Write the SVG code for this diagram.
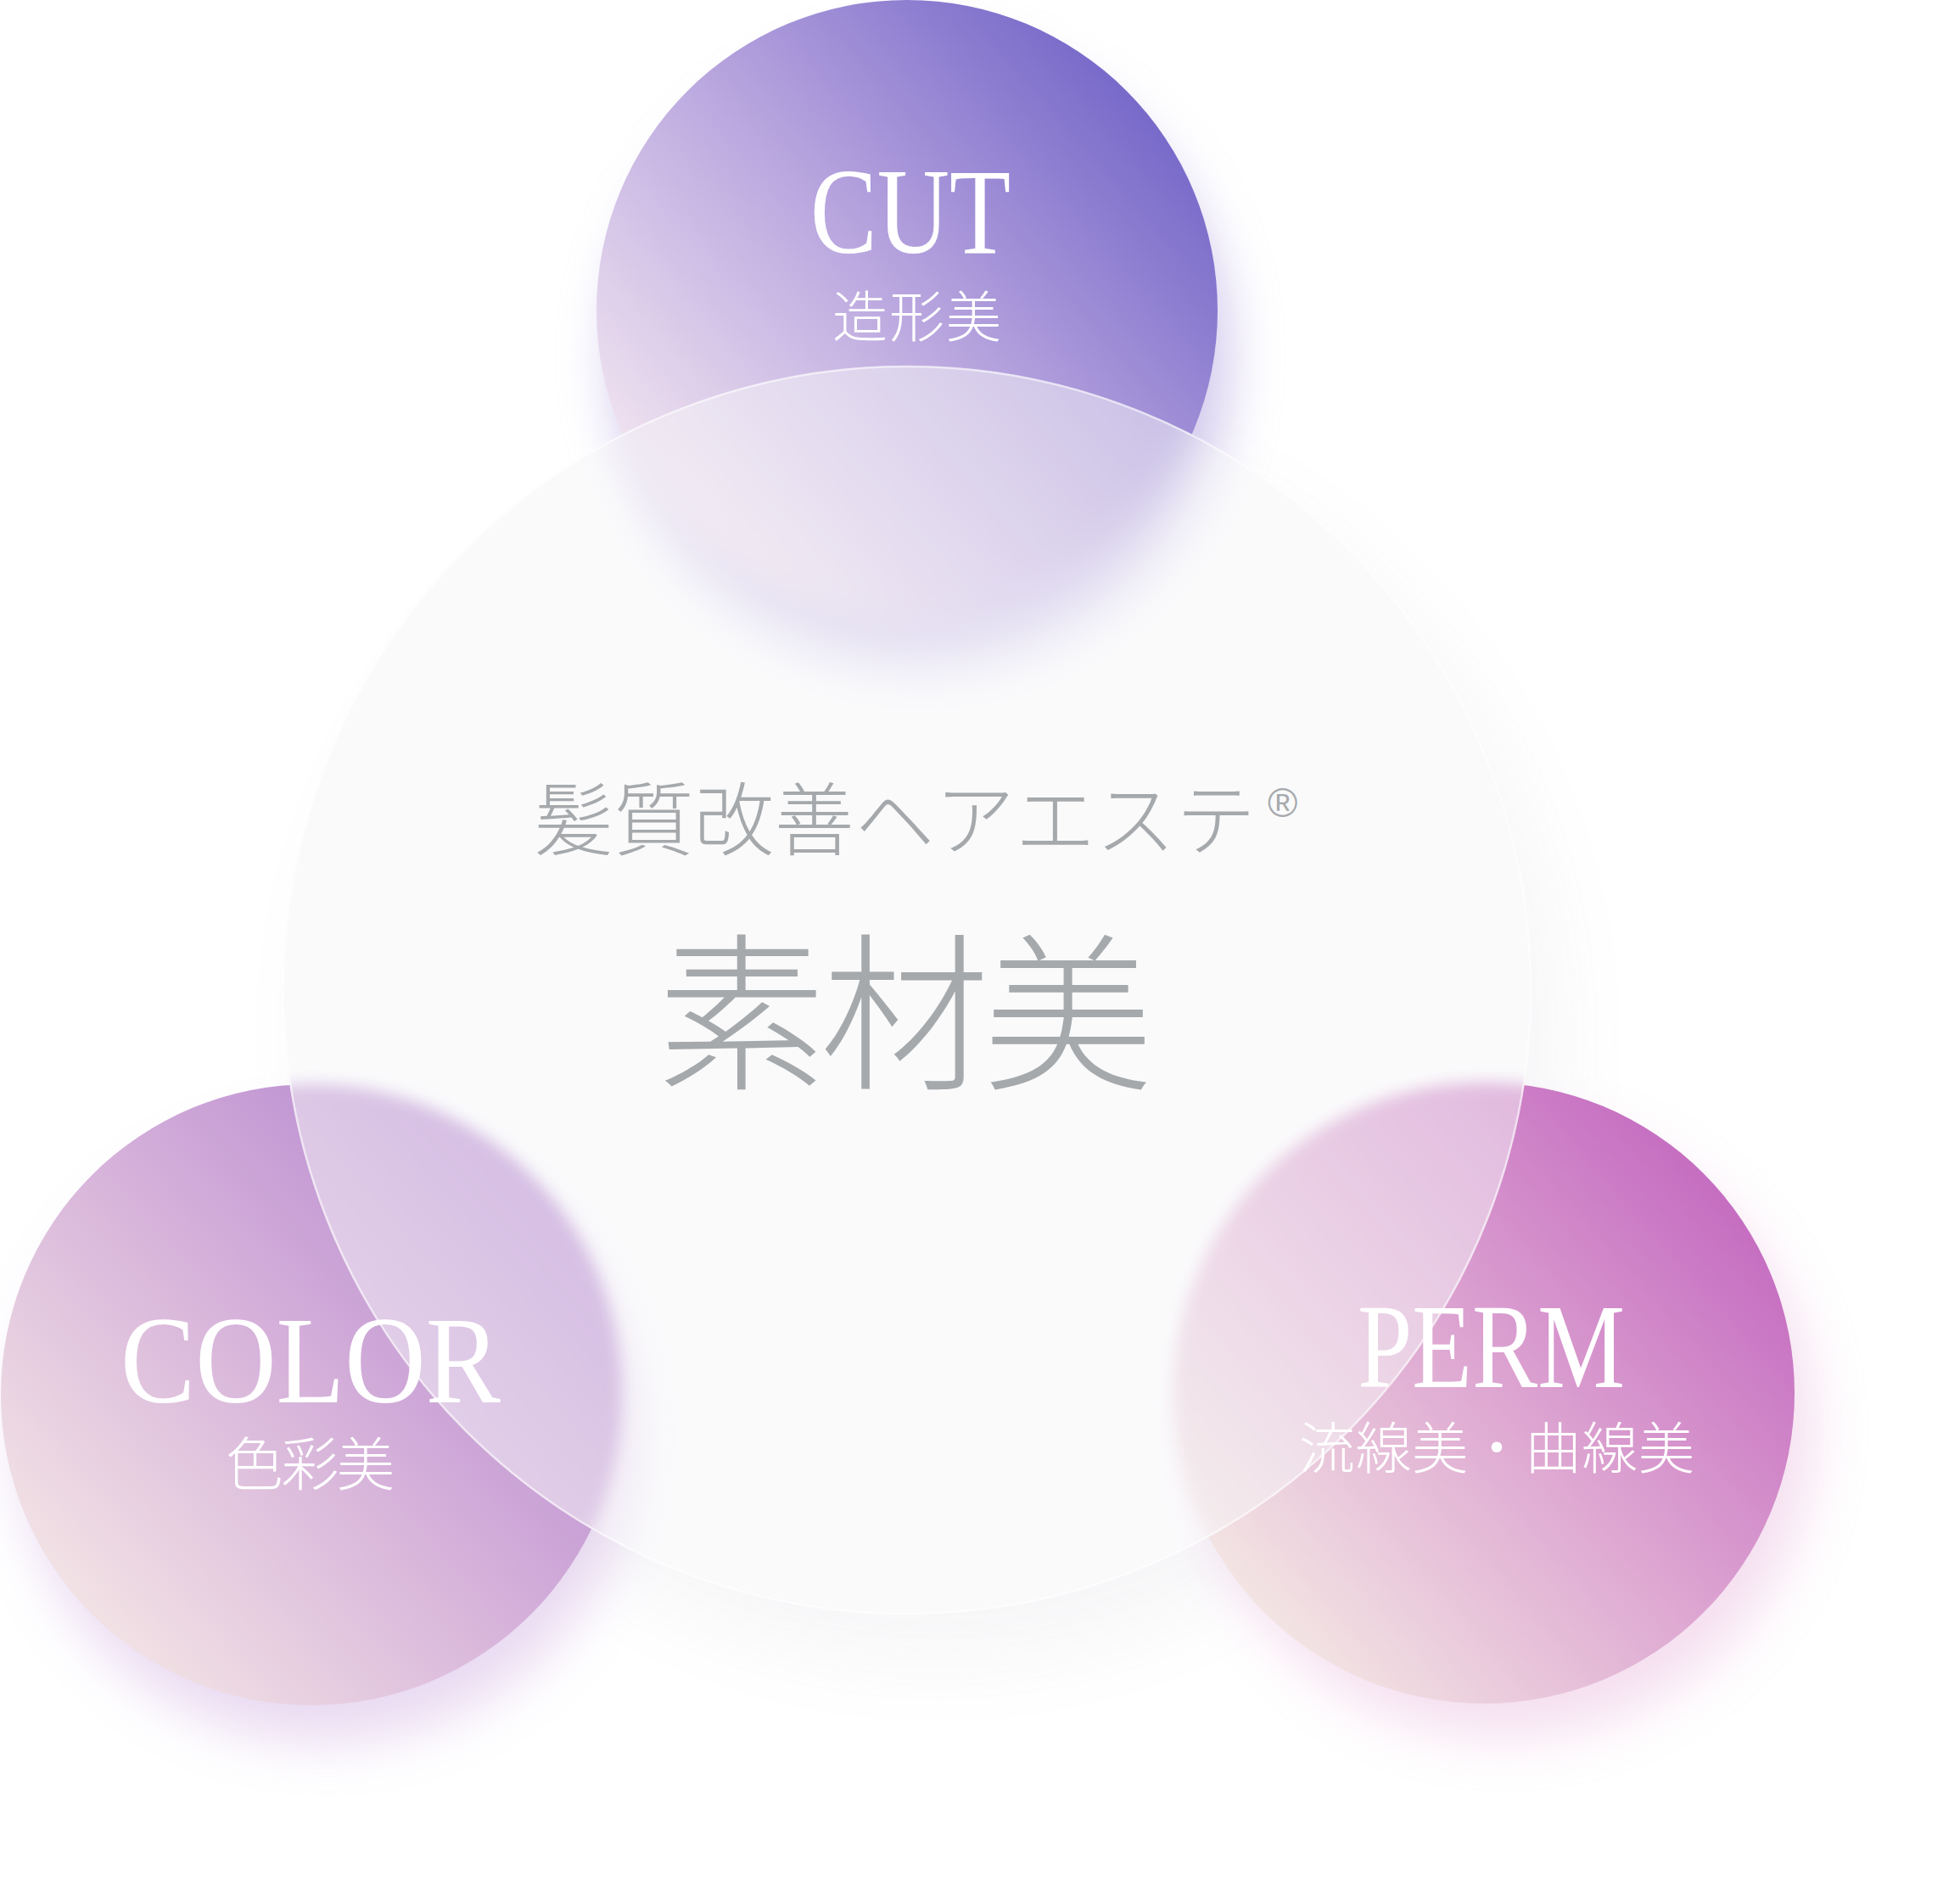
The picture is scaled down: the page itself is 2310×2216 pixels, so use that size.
<svg xmlns="http://www.w3.org/2000/svg" xmlns:xlink="http://www.w3.org/1999/xlink" width="2310" height="2216" viewBox="0 0 2310 2216">
  <style>
    .lat { font-family: "Liberation Serif", "DejaVu Serif", serif; fill: #ffffff; }
    .jp { font-family: "Liberation Serif", "Noto Sans CJK JP", serif; font-weight: 300; fill: #ffffff; }
    .core { font-family: "Liberation Serif", "Noto Sans CJK JP", serif; font-weight: 300; fill: #a6a9ac; }
    .reg { font-family: "Liberation Sans", "DejaVu Sans", sans-serif; fill: #a6a9ac; }
  </style>
  <defs>
    <linearGradient id="gCut" x1="0.1" y1="0.85" x2="0.9" y2="0.15">
      <stop offset="0" stop-color="#f4e7f1"/>
      <stop offset="0.5" stop-color="#baa7df"/>
      <stop offset="1" stop-color="#7466c8"/>
    </linearGradient>
    <linearGradient id="gColor" x1="0.1" y1="0.85" x2="0.9" y2="0.15">
      <stop offset="0" stop-color="#f3e4e5"/>
      <stop offset="0.5" stop-color="#d6b2da"/>
      <stop offset="1" stop-color="#b384cf"/>
    </linearGradient>
    <linearGradient id="gPerm" x1="0.1" y1="0.85" x2="0.9" y2="0.15">
      <stop offset="0" stop-color="#f4e8e4"/>
      <stop offset="0.5" stop-color="#dea8d2"/>
      <stop offset="1" stop-color="#c46ac0"/>
    </linearGradient>
    <filter id="shadowBlur" x="-30%" y="-30%" width="160%" height="160%">
      <feGaussianBlur stdDeviation="32"/>
    </filter>
    <filter id="bigShadowBlur" x="-30%" y="-30%" width="160%" height="160%">
      <feGaussianBlur stdDeviation="45"/>
    </filter>
    <filter id="backdropSoft" x="-20%" y="-20%" width="140%" height="140%">
      <feGaussianBlur stdDeviation="22"/>
    </filter>
    <filter id="backdrop" x="-20%" y="-20%" width="140%" height="140%">
      <feGaussianBlur stdDeviation="9"/>
    </filter>
    <clipPath id="glassClip">
      <circle cx="1069" cy="1167" r="736"/>
    </clipPath>
    <g id="glows">
      <circle cx="1085" cy="420" r="362" fill="#a390da" opacity="0.5" filter="url(#shadowBlur)"/>
      <circle cx="385" cy="1690" r="362" fill="#c8a0dc" opacity="0.4" filter="url(#shadowBlur)"/>
      <circle cx="1775" cy="1685" r="362" fill="#e2a2d2" opacity="0.35" filter="url(#shadowBlur)"/>
    </g>
    <circle id="discCut" cx="1069" cy="366" r="366" fill="url(#gCut)"/>
    <circle id="discColor" cx="367" cy="1644" r="366" fill="url(#gColor)"/>
    <circle id="discPerm" cx="1749" cy="1642" r="366" fill="url(#gPerm)"/>
  </defs>

  <rect x="0" y="0" width="2310" height="2216" fill="#ffffff"/>

  <!-- soft shadow of the central glass disc -->
  <circle cx="1105" cy="1225" r="736" fill="#8c8ca2" opacity="0.07" filter="url(#bigShadowBlur)"/>

  <!-- colored discs with their glows -->
  <g id="discs">
    <use xlink:href="#glows" href="#glows"/>
    <use xlink:href="#discCut" href="#discCut"/>
    <use xlink:href="#discColor" href="#discColor"/>
    <use xlink:href="#discPerm" href="#discPerm"/>
  </g>

  <!-- central frosted glass disc -->
  <g id="node-core">
    <g clip-path="url(#glassClip)">
      <rect x="0" y="0" width="2310" height="2216" fill="#ffffff"/>
      <use xlink:href="#glows" href="#glows"/>
      <g filter="url(#backdropSoft)">
        <use xlink:href="#discCut" href="#discCut"/>
      </g>
      <g filter="url(#backdrop)">
        <use xlink:href="#discColor" href="#discColor"/>
      </g>
      <g filter="url(#backdrop)">
        <use xlink:href="#discPerm" href="#discPerm"/>
      </g>
      <circle cx="1069" cy="1167" r="736" fill="#f6f6f8" fill-opacity="0.5"/>
    </g>
    <circle cx="1069" cy="1167" r="735" fill="none" stroke="#ffffff" stroke-opacity="0.55" stroke-width="2.5"/>
    <text class="core" x="629" y="1001" font-size="94" textLength="851" lengthAdjust="spacing">髪質改善ヘアエステ</text>
    <text class="reg" x="1494" y="963" font-size="48">®</text>
    <text class="core" x="774" y="1269" font-size="200" textLength="585" lengthAdjust="spacing">素材美</text>
  </g>

  <g id="node-cut">
    <text class="lat" x="955" y="298" font-size="143" textLength="236" lengthAdjust="spacingAndGlyphs">CUT</text>
    <text class="jp" x="981" y="397" font-size="65" textLength="199" lengthAdjust="spacing">造形美</text>
  </g>

  <g id="node-color">
    <text class="lat" x="142" y="1653" font-size="146" textLength="448" lengthAdjust="spacingAndGlyphs">COLOR</text>
    <text class="jp" x="266" y="1751" font-size="68" textLength="199" lengthAdjust="spacing">色彩美</text>
  </g>

  <g id="node-perm">
    <text class="lat" x="1600" y="1635" font-size="142" textLength="315" lengthAdjust="spacingAndGlyphs">PERM</text>
    <text class="jp" x="1531" y="1731" font-size="66" textLength="466" lengthAdjust="spacing">流線美・曲線美</text>
  </g>

  <g id="connectors"/>
</svg>
